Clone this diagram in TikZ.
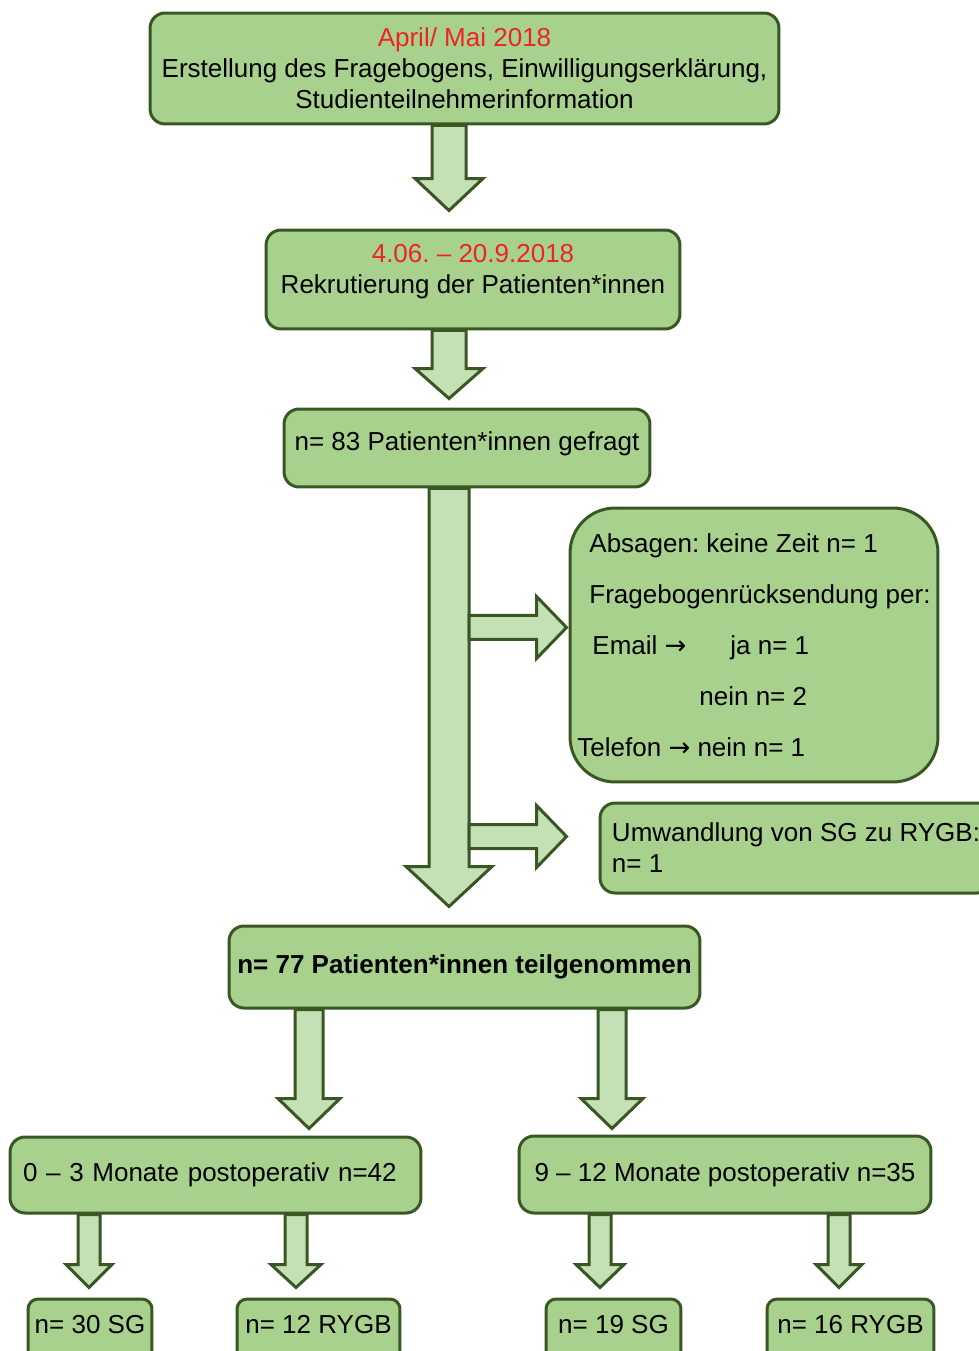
\documentclass[tikz,border=0pt]{standalone}
\usepackage{fontspec}
\setmainfont{Liberation Sans}
\newfontfamily\arrowfont{DejaVu Sans}
\usepackage{tikz}
\usetikzlibrary{calc}

\definecolor{boxgreen}{RGB}{169,209,142}
\definecolor{arrowgreen}{RGB}{197,224,180}
\definecolor{edgegreen}{RGB}{56,87,35}
\definecolor{datered}{RGB}{236,36,36}

\frenchspacing
\newcommand{\boxfont}{\fontsize{14.8pt}{17.6pt}\selectfont}
\newcommand{\arr}{{\arrowfont →}}

% block arrows: start, tip, shaft half width, head half width, head length
\newcommand{\blockdown}[5]{%
  \draw[blockarrow] ($(#1)+(-#3,0)$) -- ($(#2)+(-#3,-#5)$) -- ($(#2)+(-#4,-#5)$) -- (#2)
    -- ($(#2)+(#4,-#5)$) -- ($(#2)+(#3,-#5)$) -- ($(#1)+(#3,0)$) -- cycle;}
\newcommand{\blockright}[5]{%
  \draw[blockarrow] ($(#1)+(0,-#3)$) -- ($(#2)+(-#5,-#3)$) -- ($(#2)+(-#5,-#4)$) -- (#2)
    -- ($(#2)+(-#5,#4)$) -- ($(#2)+(-#5,#3)$) -- ($(#1)+(0,#3)$) -- cycle;}

\begin{document}
\begin{tikzpicture}[x=0.02cm, y=-0.02cm,
    box/.style={draw=edgegreen, fill=boxgreen, line width=0.06cm, rounded corners=0.3cm,
      align=center, inner sep=0pt, font=\boxfont},
    smallbox/.style={box, rounded corners=0.2cm, minimum height=1.32cm, text height=0.38cm, text depth=0.32cm},
    blockarrow/.style={draw=edgegreen, fill=arrowgreen, line width=0.06cm, line join=miter}]
    \clip (0,0) rectangle (979,1351);

    \node [box, minimum width=12.58cm, minimum height=2.22cm] (Prep) at (464.5,68.5)
      {\textcolor{datered}{April/ Mai 2018}\\Erstellung des Fragebogens, Einwilligungserklärung,\\Studienteilnehmerinformation};
    \node [box, minimum width=8.28cm, minimum height=1.98cm, text depth=0.43cm] (Rec) at (473,279.5)
      {\textcolor{datered}{4.06. – 20.9.2018}\\Rekrutierung der Patienten*innen};
    \node [box, minimum width=7.32cm, minimum height=1.56cm, text height=0.38cm, text depth=0.28cm] (Ask) at (467,448)
      {n= 83 Patienten*innen gefragt};
    \node [box, align=left, rounded corners=0.9cm, minimum width=7.36cm, minimum height=5.48cm,
      font=\fontsize{14.8pt}{29pt}\selectfont] (Out) at (754,645)
      {\hspace*{0.24cm}Absagen: keine Zeit n= 1\\
       \hspace*{0.24cm}Fragebogenrücksendung per:\\
       \hspace*{0.3cm}\makebox[2.76cm][l]{Email \arr}ja n= 1\\
       \hspace*{2.44cm}nein n= 2\\
       Telefon \arr{} nein n= 1};
    \node [box, align=left, minimum width=7.84cm, minimum height=1.8cm] (Conv) at (796,848)
      {Umwandlung von SG zu RYGB:\\n= 1};
    \node [box, font=\boxfont\bfseries, minimum width=9.42cm, minimum height=1.64cm] (Part) at (464.5,967)
      {n= 77 Patienten*innen teilgenommen};
    \node [box, align=left, text width=7.7cm, minimum width=8.22cm, minimum height=1.52cm] (Early) at (215.5,1175)
      {0 – 3 Monate postoperativ n=42};
    \node [box, minimum width=8.24cm, minimum height=1.54cm] (Late) at (725,1174.5)
      {9 – 12 Monate postoperativ n=35};
    \node [smallbox, minimum width=2.48cm] (ESG) at (90,1332) {n= 30 SG};
    \node [smallbox, minimum width=3.26cm] (ERYGB) at (318.5,1332) {n= 12 RYGB};
    \node [smallbox, minimum width=2.7cm] (LSG) at (613.5,1332) {n= 19 SG};
    \node [smallbox, minimum width=3.34cm] (LRYGB) at (850.5,1332) {n= 16 RYGB};

    \coordinate (s1) at ($(Prep.south)+(-15.5,0)$);
    \coordinate (t1) at ($(Rec.north -| s1)+(0,-18)$);
    \coordinate (s2) at ($(Rec.south)+(-24,0)$);
    \coordinate (t2) at ($(Ask.north -| s2)+(0,-9)$);
    \coordinate (s3) at ($(Ask.south)+(-18,0)$);
    \coordinate (t3) at ($(Part.north -| s3)+(0,-18)$);
    \coordinate (b1) at ($(s3)+(20,139)$);
    \coordinate (b1tip) at ($(Out.west |- b1)+(-2,0)$);
    \coordinate (b2) at ($(s3)+(20,348)$);
    \coordinate (b2tip) at ($(Conv.west |- b2)+(-32,0)$);
    \coordinate (s4) at ($(Part.south)+(-155.5,0)$);
    \coordinate (t4) at ($(Early.north -| s4)+(0,-7)$);
    \coordinate (s5) at ($(Part.south)+(147.5,0)$);
    \coordinate (t5) at ($(Late.north -| s5)+(0,-6)$);
    \coordinate (s6) at ($(Early.south)+(-126.5,0)$);
    \coordinate (t6) at ($(ESG.north -| s6)+(0,-10)$);
    \coordinate (s7) at ($(Early.south)+(80.5,0)$);
    \coordinate (t7) at ($(ERYGB.north -| s7)+(0,-10)$);
    \coordinate (s8) at ($(Late.south)+(-125,0)$);
    \coordinate (t8) at ($(LSG.north -| s8)+(0,-10)$);
    \coordinate (s9) at ($(Late.south)+(114,0)$);
    \coordinate (t9) at ($(LRYGB.north -| s9)+(0,-10)$);

    \blockdown{s1}{t1}{17}{34}{32}
    \blockdown{s2}{t2}{17}{34}{30}
    \blockdown{s3}{t3}{20}{43}{40}
    \blockright{b1}{b1tip}{12}{31}{30}
    \blockright{b2}{b2tip}{12}{31}{30}
    \blockdown{s4}{t4}{14}{31}{30}
    \blockdown{s5}{t5}{14}{31}{30}
    \blockdown{s6}{t6}{11}{23}{23}
    \blockdown{s7}{t7}{11}{25}{23}
    \blockdown{s8}{t8}{11}{24}{23}
    \blockdown{s9}{t9}{11}{23}{23}
\end{tikzpicture}
\end{document}
